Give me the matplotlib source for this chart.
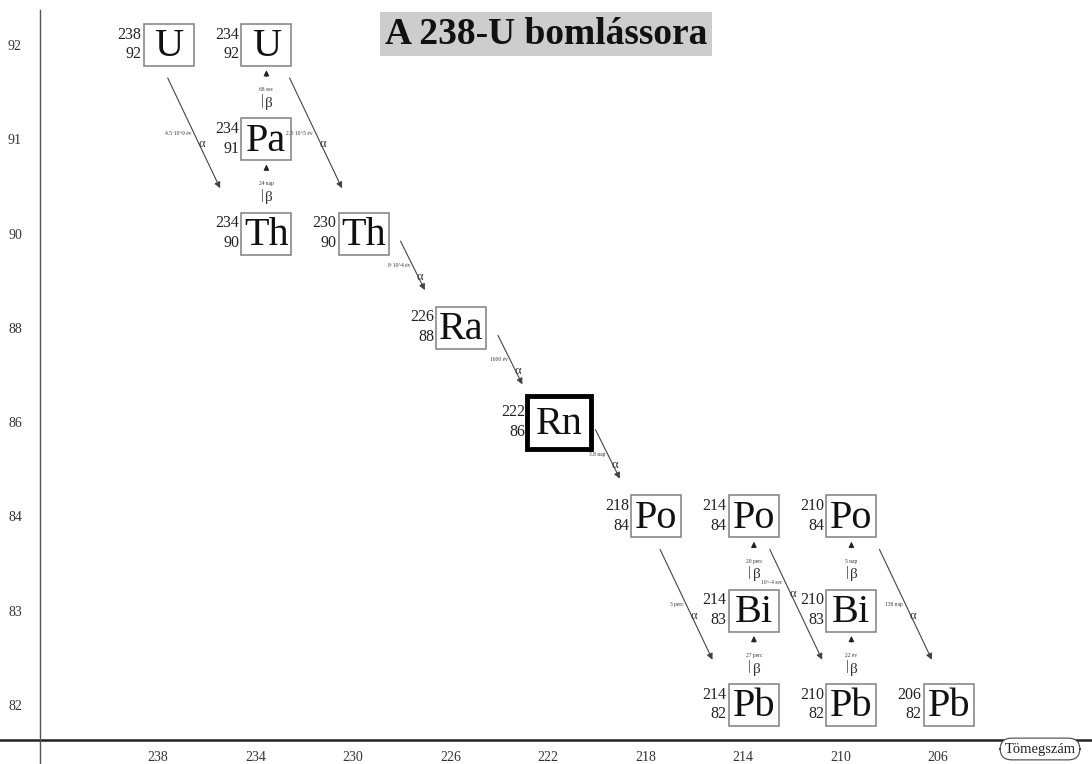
import matplotlib
matplotlib.use('Agg')
import matplotlib.pyplot as plt
from matplotlib.patches import Rectangle
from matplotlib.transforms import offset_copy

plt.rcParams['font.family'] = ['Liberation Serif', 'DejaVu Serif']

# adatok: izotópok (tömegszám, rendszám, vegyjel)
mass = [238, 234, 234, 234, 230, 226, 222, 218, 214, 214, 214, 210, 210, 210, 206]
charge = [92, 90, 91, 92, 90, 88, 86, 84, 82, 83, 84, 82, 83, 84, 82]
symbol = ['U', 'Th', 'Pa', 'U', 'Th', 'Ra', 'Rn', 'Po', 'Pb', 'Bi', 'Po', 'Pb', 'Bi', 'Po', 'Pb']

# bomlások: (honnan index, hova index, típus, felezési idő)
dec_from = [0, 1, 2, 3, 4, 5, 6, 7, 8, 9, 10, 11, 12, 13]
dec_to = [1, 2, 3, 4, 5, 6, 7, 8, 9, 10, 11, 12, 13, 14]
dec_type = ['a', 'b', 'b', 'a', 'a', 'a', 'a', 'a', 'b', 'b', 'a', 'b', 'b', 'a']
dec_time = ['4.5·10^9 év', '24 nap', '68 sec', '2.5·10^5 év', '8·10^4 év', '1600 év',
            '3.8 nap', '3 perc', '27 perc', '20 perc', '10^-4 sec', '22 év', '5 nap', '138 nap']

z_ticks = [82, 83, 84, 86, 88, 90, 91, 92]
a_ticks = [238, 234, 230, 226, 222, 218, 214, 210, 206]

# elrendezés: alfa nyilak vízszintes eltolása, felirat helye a nyíl mentén
alpha_shift = {0: 0.0, 3: 1.0, 7: 0.2, 10: 0.7, 13: 1.2}
label_frac = {10: 0.3}

row = {z: i for i, z in enumerate(z_ticks)}

fig = plt.figure(figsize=(10.92, 7.64), dpi=100)
W, H = 1092, 764
ax = fig.add_axes([40 / W, 24 / H, 1 - 40 / W, 1 - 24 / H])
ax.set_xlim(242.84, 199.68)
ax.set_ylim(-0.371, 7.477)

ax.set_xticks(a_ticks)
ax.set_xticklabels([str(a) for a in a_ticks])
ax.set_yticks(range(len(z_ticks)))
ax.set_yticklabels([str(z) for z in z_ticks])
ax.tick_params(length=0, labelsize=10, colors='#333333')
ax.tick_params(axis='y', pad=13)
ax.tick_params(axis='x', pad=8)
for s in ['top', 'right', 'left', 'bottom']:
    ax.spines[s].set_visible(False)
# tengelyek (túlnyúlnak egymáson)
ax.plot([-40 / (W - 40), 1], [0, 0], transform=ax.transAxes, color='#222222', lw=1.8, clip_on=False)
ax.plot([0, 0], [-24 / (H - 24), (H - 24 - 10) / (H - 24)], transform=ax.transAxes,
        color='#555555', lw=1.0, clip_on=False)

bw, bh = 2.05, 0.445
dx = 0.45

for i in range(len(mass)):
    x = mass[i] - dx
    y = row[charge[i]]
    if symbol[i] == 'Rn':
        w, h, lw, ec = 2.6, 0.56, 3.5, 'black'
    else:
        w, h, lw, ec = bw, bh, 1.1, '#808080'
    ax.add_patch(Rectangle((x - w / 2, y - h / 2), w, h, fill=False, ec=ec, lw=lw))
    ax.text(x, y - 0.02, symbol[i], ha='center', va='center', fontsize=29, color='#111111')
    ax.text(x + w / 2 + 0.1, y + 0.11, str(mass[i]), ha='right', va='center', fontsize=11.5, color='#222222')
    ax.text(x + w / 2 + 0.1, y - 0.1, str(charge[i]), ha='right', va='center', fontsize=11.5, color='#222222')

for k in range(len(dec_from)):
    i, j = dec_from[k], dec_to[k]
    ys = row[charge[i]]
    yt = row[charge[j]]
    if dec_type[k] == 'a':
        if ys - yt >= 2:
            x0 = mass[i] - 0.4 - alpha_shift.get(k, 0.0)
            y0, x1, y1 = ys - 0.35, x0 - 2.15, ys - 1.52
        else:
            x0, y0, x1, y1 = mass[i] - 1.95, ys - 0.08, mass[i] - 2.95, ys - 0.6
        ax.annotate('', xy=(x1, y1), xytext=(x0, y0),
                    arrowprops=dict(arrowstyle='-|>', lw=0.8, color='#444444',
                                    mutation_scale=9, shrinkA=0, shrinkB=0))
        f = label_frac.get(k, 0.5)
        mx, my = x0 + (x1 - x0) * f, y0 + (y1 - y0) * f
        ax.annotate(dec_time[k], (mx, my), xytext=(-2, 0), textcoords='offset points',
                    ha='right', va='center', fontsize=4, color='#333333')
        ax.annotate('α', (mx, my), xytext=(3, -8), textcoords='offset points',
                    ha='left', va='center', fontsize=9, color='#333333')
    else:
        x = mass[i] - dx
        top = yt - bh / 2
        ax.annotate('', xy=(x, top - 0.045), xytext=(x, top - 0.11),
                    arrowprops=dict(arrowstyle='-|>', lw=0.8, color='#222222',
                                    mutation_scale=8, shrinkA=0, shrinkB=0))
        ax.annotate(dec_time[k], (x, top), xytext=(0, -17), textcoords='offset points',
                    ha='center', va='center', fontsize=4, color='#333333')
        ax.annotate('β', (x, top), xytext=(2, -27), textcoords='offset points',
                    ha='center', va='center', fontsize=11, color='#333333')
        # rövid függőleges vonal a β előtt
        bar = offset_copy(ax.transData, fig=fig, x=-3.5, y=0, units='points')
        ax.plot([x, x], [top - 0.30, top - 0.43], transform=bar, color='#555555', lw=0.6)

fig.text(546 / W, 1 - 34 / H, 'A 238-U bomlássora', ha='center', va='center',
         fontsize=27, fontweight='bold', color='#111111',
         bbox=dict(boxstyle='square,pad=0.12', fc='#cdcdcd', ec='none'))

fig.text(1040 / W, 1 - 749 / H, 'Tömegszám', ha='center', va='center', fontsize=10.5,
         color='#222222', bbox=dict(boxstyle='round,pad=0.3,rounding_size=0.8', fc='white',
                                    ec='#444444', lw=0.8))

fig.savefig('out.png', dpi=100, facecolor='white')
